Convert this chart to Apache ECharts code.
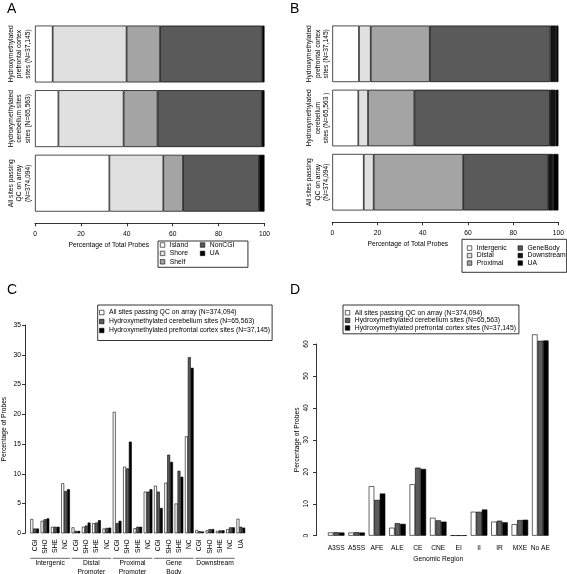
<!DOCTYPE html>
<html><head><meta charset="utf-8">
<script src="https://cdn.jsdelivr.net/npm/echarts@6/dist/echarts.min.js"></script>
<style>html,body{margin:0;padding:0;background:#fff}#c{width:567px;height:574px}</style>
</head><body><div id="c"></div>
<script>
const FONT = '"Liberation Sans", Arial, Helvetica, sans-serif';

// ---------- Panel A (CpG island context, stacked %) ----------
const catsA = ['Hydroxymethylated\nprefrontal cortex\nsites (N=37,145)',
               'Hydroxymethylated\ncerebellum sites\nsites (N=65,563)',
               'All sites passing\nQC on array\n(N=374,094)'];
const namesA = ['Island', 'Shore', 'Shelf', 'NonCGI', 'UA'];
const islandA = [7.7, 10.2, 32.4];
const shoreA  = [32.2, 28.4, 23.5];
const shelfA  = [14.6, 14.8, 8.6];
const nonCgiA = [44.5, 45.4, 33.1];
const uaA     = [1.0, 1.2, 2.4];

// ---------- Panel B (gene context, stacked %) ----------
const catsB = ['Hydroxymethylated\nprefrontal cortex\nsites (N=37,145)',
               'Hydroxymethylated\ncerebellum\nsites (N=65,563 )',
               'All sites passing\nQC on array\n(N=374,094)'];
const namesB = ['Intergenic', 'Distal', 'Proximal', 'GeneBody', 'Downstream', 'UA'];
const intergenicB = [11.8, 11.5, 13.9];
const distalB     = [5.2, 4.3, 4.4];
const proximalB   = [26.1, 20.5, 39.6];
const geneBodyB   = [53.4, 59.9, 37.6];
const downstreamB = [2.5, 2.6, 2.1];
const uaB         = [1.0, 1.2, 2.4];

// ---------- Panel C (percentage of probes by context) ----------
const labelsC = ['CGI','SHO','SHE','NC', 'CGI','SHO','SHE','NC', 'CGI','SHO','SHE','NC',
                 'CGI','SHO','SHE','NC', 'CGI','SHO','SHE','NC', 'UA'];
const allSitesC   = [2.4,2.1,1.1,8.4, 1.0,1.1,1.7,0.8, 20.4,11.2,0.85,7.0, 8.0,8.5,5.0,16.3, 0.55,0.5,0.4,0.7, 2.45];
const cerebellumC = [0.8,2.35,1.1,7.1, 0.4,1.3,1.8,0.9, 1.7,10.9,1.1,7.0, 7.0,13.2,10.5,29.6, 0.35,0.7,0.5,1.0, 1.1];
const prefrontalC = [0.8,2.5,1.1,7.4, 0.4,1.8,2.2,0.95, 2.1,15.4,1.1,7.4, 4.25,12.0,9.5,27.8, 0.3,0.7,0.5,1.0, 0.95];
const groupNamesC = ['Intergenic', 'Distal\nPromoter', 'Proximal\nPromoter', 'Gene\nBody', 'Downstream'];
const groupStartC = [0, 4, 8, 12, 16];
const groupEndC   = [3, 7, 11, 15, 19];

// ---------- Panel D (alternative splicing regions) ----------
const regionsD    = ['A3SS','A5SS','AFE','ALE','CE','CNE','EI','II','IR','MXE','No AE'];
const allSitesD   = [1.0, 1.0, 15.5, 2.5, 16.1, 5.6, 0.1, 7.5, 4.4, 3.6, 63.0];
const cerebellumD = [1.1, 1.1, 11.2, 3.9, 21.3, 4.8, 0.1, 7.5, 4.7, 4.9, 61.0];
const prefrontalD = [1.0, 1.0, 13.2, 3.7, 20.9, 4.4, 0.1, 8.2, 4.2, 5.0, 61.1];

const seriesNames = ['All sites passing QC on array (N=374,094)',
                     'Hydroxymethylated cerebellum sites (N=65,563)',
                     'Hydroxymethylated prefrontal cortex sites (N=37,145)'];

const colorsA = ['#ffffff', '#e0e0e0', '#a4a4a4', '#5a5a5a', '#000000'];
const colorsB = ['#ffffff', '#e0e0e0', '#a4a4a4', '#5a5a5a', '#141414', '#000000'];
const colorsCD = ['#ffffff', '#5c5c5c', '#000000'];

const chart = echarts.init(document.getElementById('c'), null, {renderer: 'canvas'});
const txt = (s, extra) => Object.assign({fontFamily: FONT, fontSize: s, color: '#000'}, extra || {});

const series = [];
const dataA = [islandA, shoreA, shelfA, nonCgiA, uaA];
namesA.forEach((n, i) => series.push({
  type: 'bar', name: n, stack: 'A', xAxisIndex: 0, yAxisIndex: 0, data: dataA[i],
  barCategoryGap: '12%',
  itemStyle: {color: colorsA[i], borderColor: '#000', borderWidth: 0.7}
}));
const dataB = [intergenicB, distalB, proximalB, geneBodyB, downstreamB, uaB];
namesB.forEach((n, i) => series.push({
  type: 'bar', name: n, stack: 'B', xAxisIndex: 1, yAxisIndex: 1, data: dataB[i],
  barCategoryGap: '12%',
  itemStyle: {color: colorsB[i], borderColor: '#000', borderWidth: 0.7}
}));
[allSitesC, cerebellumC, prefrontalC].forEach((d, i) => series.push({
  type: 'bar', name: seriesNames[i], xAxisIndex: 2, yAxisIndex: 2, data: d,
  barGap: '0%', barCategoryGap: '16%',
  itemStyle: {color: colorsCD[i], borderColor: '#000', borderWidth: 0.6}
}));
[allSitesD, cerebellumD, prefrontalD].forEach((d, i) => series.push({
  type: 'bar', name: seriesNames[i], xAxisIndex: 3, yAxisIndex: 3, data: d,
  barGap: '0%', barCategoryGap: '19%', clip: false,
  itemStyle: {color: colorsCD[i], borderColor: '#000', borderWidth: 0.6}
}));
// group brackets under panel C's category axis
series.push({
  type: 'custom', xAxisIndex: 2, yAxisIndex: 2, clip: false, silent: true,
  data: groupStartC.map((s, i) => [s, groupEndC[i]]),
  renderItem: function (params, api) {
    const s = api.coord([api.value(0), 0]);
    const e = api.coord([api.value(1), 0]);
    const bw = api.size([1, 0])[0];
    const x0 = s[0] - bw * 0.42, x1 = e[0] + bw * 0.42;
    const y = s[1] + 25;
    return {type: 'group', children: [
      {type: 'line', shape: {x1: x0, y1: y, x2: x1, y2: y}, style: {stroke: '#444', lineWidth: 0.8}},
      {type: 'text', style: {text: groupNamesC[params.dataIndex], x: (x0 + x1) / 2, y: y + 1,
        align: 'center', verticalAlign: 'top', fontFamily: FONT, fontSize: 6.7, lineHeight: 8.6, fill: '#000'}}
    ]};
  }
});

const pctAxis = (grid, offset, padR) => ({
  gridIndex: grid, type: 'value', min: 0, max: 100, interval: 20, offset: offset,
  splitLine: {show: false},
  axisLine: {show: true, lineStyle: {color: '#000', width: 0.8}},
  axisTick: {show: true, length: 3, lineStyle: {color: '#000', width: 0.8}},
  axisLabel: Object.assign(txt(6.7), {margin: 7}),
  name: 'Percentage of Total Probes', nameLocation: 'middle', nameGap: 18,
  nameTextStyle: txt(6.7, {padding: [0, padR, 0, 0]})
});
const catYAxis = (grid, data, margin) => ({
  gridIndex: grid, type: 'category', inverse: true, data: data,
  axisLine: {show: false}, axisTick: {show: false},
  axisLabel: Object.assign(txt(6.7, {lineHeight: 8.5}), {rotate: 90, margin: margin, interval: 0})
});

const legendBase = (extra) => Object.assign({
  orient: 'vertical', icon: 'rect', itemWidth: 4.5, itemHeight: 4.5,
  textStyle: txt(6.8, {lineHeight: 8}), selectedMode: false,
  itemStyle: {borderColor: '#000', borderWidth: 0.6}
}, extra);

chart.setOption({
  animation: false,
  backgroundColor: '#fff',
  title: [
    {text: 'A', left: 7, top: 2, padding: 0, textStyle: txt(14, {fontWeight: 'normal'})},
    {text: 'B', left: 290, top: 2, padding: 0, textStyle: txt(14, {fontWeight: 'normal'})},
    {text: 'C', left: 7, top: 283, padding: 0, textStyle: txt(14, {fontWeight: 'normal'})},
    {text: 'D', left: 290, top: 283, padding: 0, textStyle: txt(14, {fontWeight: 'normal'})}
  ],
  grid: [
    {left: 35, right: 302.5, top: 21.7, bottom: 358.5},
    {left: 332.3, right: 5, top: 21.7, bottom: 359.7},
    {left: 29, right: 321, top: 325, bottom: 40.7},
    {left: 326, right: 16.5, top: 344, bottom: 38.3}
  ],
  xAxis: [
    pctAxis(0, 7.8, 82),
    pctAxis(1, 8, 75),
    {gridIndex: 2, type: 'category', data: labelsC.map((l, i) => i + ':' + l),
     axisLine: {show: false}, axisTick: {show: false},
     axisLabel: Object.assign(txt(6.7), {rotate: 90, interval: 0, margin: 6,
       formatter: (v, i) => labelsC[i]})},
    {gridIndex: 3, type: 'category', data: regionsD,
     axisLine: {show: false}, axisTick: {show: false},
     axisLabel: Object.assign(txt(6.7), {interval: 0, margin: 8.5}),
     name: 'Genomic Region', nameLocation: 'middle', nameGap: 20, nameTextStyle: txt(6.7)}
  ],
  yAxis: [
    catYAxis(0, catsA, 3),
    catYAxis(1, catsB, 1.5),
    {gridIndex: 2, type: 'value', min: 0, max: 35, interval: 5, offset: 4.5,
     splitLine: {show: false},
     axisLine: {show: true, lineStyle: {color: '#000', width: 0.8}},
     axisTick: {show: true, length: 3, lineStyle: {color: '#000', width: 0.8}},
     axisLabel: Object.assign(txt(6.7), {margin: 4}),
     name: 'Percentage of Probes', nameLocation: 'middle', nameGap: 17, nameTextStyle: txt(6.7)},
    {gridIndex: 3, type: 'value', min: 0, max: 60, interval: 10, offset: 10,
     splitLine: {show: false},
     axisLine: {show: true, lineStyle: {color: '#000', width: 0.8}},
     axisTick: {show: true, length: 3, lineStyle: {color: '#000', width: 0.8}},
     axisLabel: Object.assign(txt(6.7), {rotate: 90, margin: 6}),
     name: 'Percentage of Probes', nameLocation: 'middle', nameGap: 15.5, nameTextStyle: txt(6.7)}
  ],
  legend: [
    legendBase({left: 158, top: 241, data: namesA.slice(0, 3), itemGap: 0.4,
      padding: [0, 60, 1.5, 2], borderColor: '#000', borderWidth: 0.8}),
    legendBase({left: 200, top: 241, data: namesA.slice(3), itemGap: 0.4, padding: 0}),
    legendBase({left: 462, top: 239.3, data: namesB.slice(0, 3), itemGap: 0,
      textStyle: txt(6.8, {lineHeight: 7.5}),
      padding: [5, 60, 5.5, 5], borderColor: '#000', borderWidth: 0.8}),
    legendBase({left: 517.7, top: 244.3, data: namesB.slice(3), itemGap: 0,
      textStyle: txt(6.8, {lineHeight: 7.5}), padding: 0}),
    legendBase({left: 97.7, top: 305, data: seriesNames, itemGap: 1,
      textStyle: txt(6.8, {lineHeight: 8}),
      padding: [3.5, 2, 6, 1.5], borderColor: '#000', borderWidth: 0.8}),
    legendBase({left: 343, top: 305, data: seriesNames, itemGap: 0,
      textStyle: txt(6.8, {lineHeight: 7.6}),
      padding: [4, 3, 2, 2], borderColor: '#000', borderWidth: 0.8})
  ],
  series: series
});
</script>
</body></html>
